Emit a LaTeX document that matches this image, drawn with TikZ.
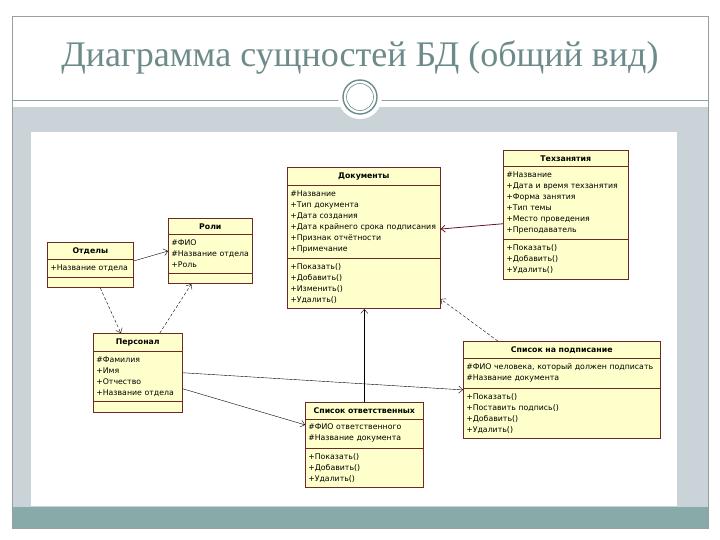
\documentclass[tikz,border=0pt]{standalone}
\usepackage{fontspec}
\setmainfont{Liberation Serif}
\newfontfamily\umlfont{DejaVu Sans}
\usepackage{tikz}
\usetikzlibrary{positioning, calc, arrows.meta, shapes.multipart}
\definecolor{slidegrey}{RGB}{201,211,216}
\definecolor{slideteal}{RGB}{136,170,168}
\definecolor{titlegrey}{RGB}{110,139,139}
\definecolor{framegrey}{RGB}{150,160,160}
\definecolor{umlfill}{RGB}{255,255,204}
\definecolor{umlline}{RGB}{110,40,40}
\definecolor{linkred}{RGB}{100,20,45}

\begin{document}
\begin{tikzpicture}[x=1pt,y=-1pt]
	 \tikzstyle{umlclass}=[rectangle split, rectangle split parts=3, draw=umlline, fill=umlfill, anchor=north west, inner xsep=3pt, inner ysep=5pt, align=left, line width=0.6pt, font=\umlfont\fontsize{7.8}{11}\selectfont]
	 \tikzstyle{assoc} = [draw,thin,black,-{Straight Barb[length=4pt,width=7pt]}]
	 \tikzstyle{depend} = [assoc,dash pattern=on 3pt off 2pt]
	 \useasboundingbox (0,0) rectangle (720,540);
	 % slide background
	 \fill[white] (0,0) rectangle (720,540);
	 \fill[slidegrey] (12,107) rectangle (708,507);
	 \fill[white] (31,132) rectangle (677,506);
	 \fill[slideteal] (12,507) rectangle (708,528);
	 \draw[framegrey,line width=0.8pt] (12,16) rectangle (708,528);
	 \draw[framegrey,line width=0.8pt] (12,100) -- (708,100);
	 \fill[white] (360,97) circle (22);
	 \draw[titlegrey,line width=1.4pt] (360,97) circle (17);
	 \draw[titlegrey,line width=0.6pt] (360,97) circle (13.5);
	 \node[text=titlegrey,font=\fontsize{36}{40}\selectfont] (title) at (360,58) {Диаграмма сущностей БД (общий вид)};
	 % classes
	 \node[umlclass,text width=80pt] (otd) at (47,242) {{\centering\bfseries Отделы\par}
		\nodepart{second}+Название отдела
		\nodepart{third}};
	 \node[umlclass,text width=78pt] (roles) at (168,218) {{\centering\bfseries Роли\par}
		\nodepart{second}\#ФИО\\\#Название отдела\\+Роль
		\nodepart{third}};
	 \node[umlclass,text width=147pt] (docs) at (287,167) {{\centering\bfseries Документы\par}
		\nodepart{second}\#Название\\+Тип документа\\+Дата создания\\+Дата крайнего срока подписания\\+Признак отчётности\\+Примечание
		\nodepart{third}+Показать()\\+Добавить()\\+Изменить()\\+Удалить()};
	 \node[umlclass,text width=119pt] (tech) at (503,150) {{\centering\bfseries Техзанятия\par}
		\nodepart{second}\#Название\\+Дата и время техзанятия\\+Форма занятия\\+Тип темы\\+Место проведения\\+Преподаватель
		\nodepart{third}+Показать()\\+Добавить()\\+Удалить()};
	 \node[umlclass,text width=83pt] (pers) at (93,333) {{\centering\bfseries Персонал\par}
		\nodepart{second}\#Фамилия\\+Имя\\+Отчество\\+Название отдела
		\nodepart{third}};
	 \node[umlclass,text width=191pt] (sign) at (463,341) {{\centering\bfseries Список на подписание\par}
		\nodepart{second}\#ФИО человека, который должен подписать\\\#Название документа
		\nodepart{third}+Показать()\\+Поставить подпись()\\+Добавить()\\+Удалить()};
	 \node[umlclass,text width=112pt] (resp) at (305,402) {{\centering\bfseries Список ответственных\par}
		\nodepart{second}\#ФИО ответственного\\\#Название документа
		\nodepart{third}+Показать()\\+Добавить()\\+Удалить()};
	 % links
	 \draw[assoc] ([yshift=4pt]otd.east) -- (roles.west);
	 \draw[depend] ([xshift=10pt]otd.south) -- ([xshift=-17pt]pers.north);
	 \draw[depend] ([xshift=22pt]pers.north) -- ([xshift=-19pt]roles.south);
	 \draw[assoc,linkred,thick] ([yshift=-9pt]tech.west) -- ([yshift=9pt]docs.east);
	 \draw[depend] ([xshift=-64pt]sign.north) -- ([yshift=10pt]docs.south east);
	 \draw[assoc] (resp.north) -- (resp.north |- docs.south);
	 \draw[assoc] (pers.east) -- (sign.west);
	 \draw[assoc] ([yshift=-16pt]pers.east) -- ([yshift=20pt]resp.west);
 \end{tikzpicture}
\end{document}
